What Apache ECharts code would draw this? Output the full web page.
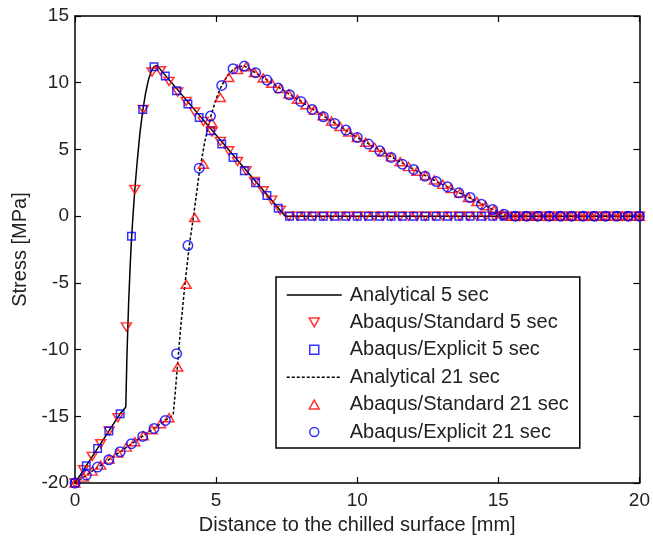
<!DOCTYPE html>
<html>
<head>
<meta charset="utf-8">
<script src="https://cdn.jsdelivr.net/npm/echarts@6/dist/echarts.min.js"></script>
<style>
  html, body { margin: 0; padding: 0; background: #fff; }
  #chart { width: 653px; height: 540px; }
</style>
</head>
<body>
<div id="chart"></div>
<script>
// Node positions through the thickness [mm]
const xExplicit = [
  0, 0.4, 0.8, 1.2, 1.6, 2, 2.4, 2.8, 3.2, 3.6, 4, 4.4, 4.8, 5.2, 5.6, 6, 6.4, 6.8, 7.2, 7.6,
  8, 8.4, 8.8, 9.2, 9.6, 10, 10.4, 10.8, 11.2, 11.6, 12, 12.4, 12.8, 13.2, 13.6, 14, 14.4, 14.8, 15.2, 15.6,
  16, 16.4, 16.8, 17.2, 17.6, 18, 18.4, 18.8, 19.2, 19.6, 20
];
const xStandard = [
  0, 0.30, 0.61, 0.91, 1.21, 1.52, 1.82, 2.12, 2.42, 2.73, 3.03, 3.33, 3.64, 3.94, 4.24, 4.55, 4.85,
  5.15, 5.45, 5.76, 6.06, 6.36, 6.67, 6.97, 7.27, 7.58, 7.88, 8.18, 8.48, 8.79, 9.09, 9.39, 9.70,
  10.00, 10.30, 10.61, 10.91, 11.21, 11.52, 11.82, 12.12, 12.42, 12.73, 13.03, 13.33, 13.64, 13.94,
  14.24, 14.55, 14.85, 15.15, 15.45, 15.76, 16.06, 16.36, 16.67, 16.97, 17.27, 17.58, 17.88, 18.18,
  18.48, 18.79, 19.09, 19.39, 19.70, 20.00
];

// Analytical solutions [MPa]
const xAnalytical5 = [0, 1.6, 1.8, 1.84, 1.9, 1.96, 2.0, 2.06, 2.12, 2.2, 2.3, 2.4, 2.5, 2.6, 2.7, 2.8, 2.9, 7.45, 20];
const yAnalytical5 = [-20, -14.8, -14.3, -10.5, -6.5, -3.5, -1.8, 0.2, 2.0, 4.0, 6.2, 7.9, 9.2, 10.2, 10.85, 11.2, 11.3, 0, 0];
const xAnalytical21 = [0, 3.48, 3.56, 3.64, 3.75, 3.9, 4.05, 4.2, 4.4, 4.6, 4.8, 5.0, 5.2, 5.4, 5.6, 5.8, 6.0,
  6.4, 7.0, 8.0, 9.0, 10.0, 11.0, 12.0, 13.0, 14.0, 15.3, 20];
const yAnalytical21 = [-20, -14.9, -13.0, -11.0, -8.2, -5.0, -2.2, 0.0, 3.2, 5.6, 7.4, 8.8, 9.8, 10.5, 11.0, 11.2, 11.25,
  10.75, 9.95, 8.6, 7.25, 5.9, 4.7, 3.5, 2.4, 1.35, 0, 0];

// Abaqus/Standard results [MPa]
const yStandard5 = [
  -20, -19.0, -18.0, -17.05, -16.1, -15.1, -8.3, 2.0, 8.0, 10.8, 10.9, 10.1, 9.3, 8.6, 7.8, 7.1, 6.3,
  5.6, 4.9, 4.1, 3.4, 2.6, 1.9, 1.2, 0.45, 0, 0, 0, 0, 0, 0, 0, 0,
  0, 0, 0, 0, 0, 0, 0, 0, 0, 0, 0, 0, 0, 0,
  0, 0, 0, 0, 0, 0, 0, 0, 0, 0, 0, 0, 0, 0,
  0, 0, 0, 0, 0, 0
];
const yStandard21 = [
  -20, -19.55, -19.1, -18.65, -18.2, -17.75, -17.3, -16.9, -16.45, -16.0, -15.55, -15.1, -11.3, -5.1, -0.1, 3.9, 7.0,
  8.9, 10.4, 11.0, 11.2, 10.77, 10.36, 9.96, 9.57, 9.16, 8.76, 8.36, 7.95, 7.53, 7.13, 6.72, 6.31,
  5.9, 5.54, 5.17, 4.81, 4.45, 4.08, 3.72, 3.37, 3.05, 2.72, 2.39, 2.07, 1.74, 1.41,
  1.1, 0.78, 0.47, 0.16, 0, 0, 0, 0, 0, 0, 0, 0, 0, 0,
  0, 0, 0, 0, 0, 0
];

// Abaqus/Explicit results [MPa]
const yExplicit5 = [
  -20, -18.7, -17.4, -16.1, -14.8, -1.5, 8.0, 11.2, 10.5, 9.4, 8.4, 7.4, 6.4, 5.4, 4.4, 3.4, 2.5, 1.55, 0.6, 0,
  0, 0, 0, 0, 0, 0, 0, 0, 0, 0, 0, 0, 0, 0, 0, 0, 0, 0, 0, 0,
  0, 0, 0, 0, 0, 0, 0, 0, 0, 0, 0
];
const yExplicit21 = [
  -20, -19.4, -18.8, -18.25, -17.65, -17.05, -16.5, -15.9, -15.3, -10.3, -2.2, 3.6, 7.5, 9.8, 11.05, 11.25, 10.75, 10.2, 9.6, 9.1,
  8.6, 8.0, 7.45, 6.95, 6.45, 5.9, 5.4, 4.9, 4.4, 3.9, 3.5, 3.0, 2.6, 2.2, 1.75, 1.4, 0.9, 0.5, 0.15, 0,
  0, 0, 0, 0, 0, 0, 0, 0, 0, 0, 0
];

const seriesNames = [
  'Analytical 5 sec', 'Abaqus/Standard 5 sec', 'Abaqus/Explicit 5 sec',
  'Analytical 21 sec', 'Abaqus/Standard 21 sec', 'Abaqus/Explicit 21 sec'
];
const xTicks = { min: 0, max: 20, step: 5 };
const yTicks = { min: -20, max: 15, step: 5 };

const zip = (xs, ys) => xs.map((x, i) => [x, ys[i]]);

const FONT = '"Liberation Sans", Arial, Helvetica, sans-serif';
const TEXT = '#222';
const RED = '#ff0000';
const BLUE = '#0000ff';

// Marker shapes (also used as legend icons)
const TRI_DOWN = 'path://M0,0 L10,0 L5,9 Z';
const TRI_UP = 'path://M5,0 L10,9 L0,9 Z';
const SQUARE = 'path://M0,0 L10,0 L10,10 L0,10 Z';

const frameLine = { show: true, onZero: false, lineStyle: { color: '#000', width: 1.5 } };
const frameTick = { show: true, inside: true, length: 6, lineStyle: { color: '#000', width: 1.2 } };

function xAxisDef(pos, withLabels) {
  return {
    type: 'value', position: pos, min: xTicks.min, max: xTicks.max, interval: xTicks.step,
    axisLine: frameLine, axisTick: frameTick, splitLine: { show: false },
    axisLabel: { show: withLabels, margin: 8, fontSize: 19, color: TEXT, fontFamily: FONT },
    name: withLabels ? 'Distance to the chilled surface [mm]' : '',
    nameLocation: 'middle', nameGap: 30,
    nameTextStyle: { fontSize: 20, color: TEXT, fontFamily: FONT }
  };
}
function yAxisDef(pos, withLabels) {
  return {
    type: 'value', position: pos, min: yTicks.min, max: yTicks.max, interval: yTicks.step,
    axisLine: frameLine, axisTick: frameTick, splitLine: { show: false },
    axisLabel: { show: withLabels, margin: 6, fontSize: 19, color: TEXT, fontFamily: FONT },
    name: withLabels ? 'Stress [MPa]' : '',
    nameLocation: 'middle', nameGap: 27,
    nameTextStyle: { fontSize: 20, color: TEXT, fontFamily: FONT }
  };
}

function markerSeries(name, xs, ys, symbol, size, color) {
  return {
    name, type: 'scatter', data: zip(xs, ys), symbol, symbolSize: size, symbolKeepAspect: true,
    itemStyle: { color: 'transparent', borderColor: color, borderWidth: 1.5 },
    z: 3
  };
}

const markerLegend = (name, icon) => ({ name, icon, itemStyle: { borderWidth: 1.5 } });

const chart = echarts.init(document.getElementById('chart'), null, { renderer: 'canvas' });
chart.setOption({
  animation: false,
  backgroundColor: '#fff',
  grid: { left: 75, right: 11.5, top: 16, bottom: 54, containLabel: false },
  xAxis: [xAxisDef('bottom', true), xAxisDef('top', false)],
  yAxis: [yAxisDef('left', true), yAxisDef('right', false)],
  legend: {
    orient: 'vertical', left: 276, top: 277,
    padding: [8, 11, 6, 10],
    itemWidth: 55, itemHeight: 9, itemGap: 7.4,
    symbolKeepAspect: true,
    borderColor: '#000', borderWidth: 1.5, backgroundColor: '#fff',
    textStyle: { fontSize: 20, color: TEXT, fontFamily: FONT, padding: [0, 0, 0, 3] },
    data: [
      { name: seriesNames[0], itemStyle: { opacity: 0 }, lineStyle: { color: '#000', width: 1.5, type: 'solid' } },
      markerLegend(seriesNames[1], TRI_DOWN),
      markerLegend(seriesNames[2], SQUARE),
      { name: seriesNames[3], itemStyle: { opacity: 0 }, lineStyle: { color: '#000', width: 1.5, type: [3, 2] } },
      markerLegend(seriesNames[4], TRI_UP),
      markerLegend(seriesNames[5], 'circle')
    ]
  },
  series: [
    {
      name: seriesNames[0], type: 'line', data: zip(xAnalytical5, yAnalytical5),
      symbol: 'none', showSymbol: false, smooth: false,
      itemStyle: { color: '#000' }, lineStyle: { color: '#000', width: 1.5, type: 'solid' }, z: 2
    },
    markerSeries(seriesNames[1], xStandard, yStandard5, TRI_DOWN, [10, 9], RED),
    markerSeries(seriesNames[2], xExplicit, yExplicit5, SQUARE, 7.5, BLUE),
    {
      name: seriesNames[3], type: 'line', data: zip(xAnalytical21, yAnalytical21),
      symbol: 'none', showSymbol: false, smooth: false,
      itemStyle: { color: '#000' }, lineStyle: { color: '#000', width: 1.5, type: [3, 2] }, z: 2
    },
    markerSeries(seriesNames[4], xStandard, yStandard21, TRI_UP, [10, 9], RED),
    markerSeries(seriesNames[5], xExplicit, yExplicit21, 'circle', 9.5, BLUE)
  ]
});
</script>
</body>
</html>
